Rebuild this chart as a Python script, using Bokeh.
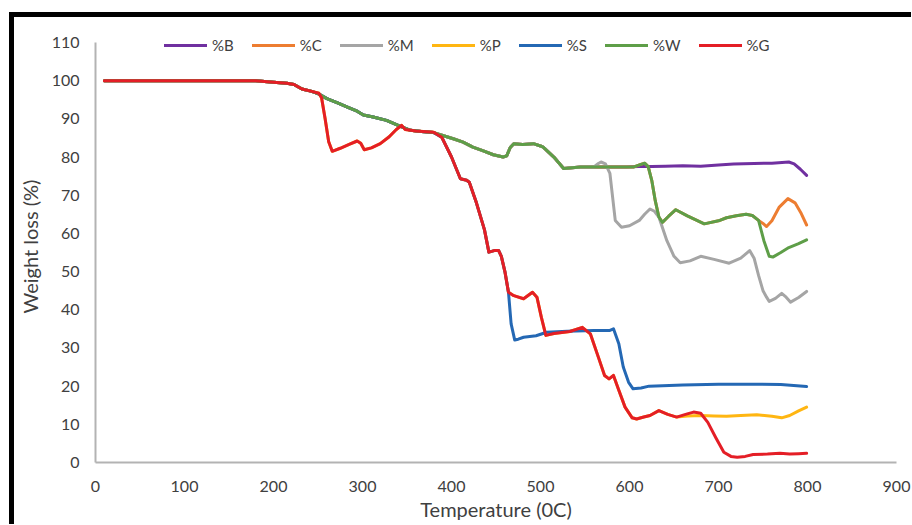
from bokeh.plotting import figure
from bokeh.models import FixedTicker, Legend, LegendItem, Spacer
from bokeh.layouts import column, row
from bokeh.embed import file_html
from bokeh.resources import INLINE

FONT = "Lato"

# ---------------- data ----------------
x_ticks = [0, 100, 200, 300, 400, 500, 600, 700, 800, 900]
y_ticks = [0, 10, 20, 30, 40, 50, 60, 70, 80, 90, 100, 110]

# common start (all series)
t_start = [10, 60, 120, 180, 200, 215, 223, 232, 243]
v_start = [100, 100, 100, 100, 99.6, 99.3, 99.0, 97.8, 97.2]

# upper path 250-380 (B, C, M, W, S)
t_upper = [252, 260, 272, 283, 294, 301, 312, 327, 344, 354, 366, 380]
v_upper = [96.4, 95.3, 94.2, 93.1, 92.0, 91.0, 90.5, 89.6, 87.9, 87.0, 86.7, 86.4]

# dip path 250-380 (G, P)
t_gdip = [251, 254, 258, 262, 266, 275, 285, 294, 298, 302, 310, 320, 330, 338, 344, 348, 360, 380]
v_gdip = [96.7, 95.5, 90.0, 84.0, 81.5, 82.3, 83.3, 84.2, 83.6, 81.9, 82.4, 83.5, 85.3, 87.2, 88.3, 87.2, 86.8, 86.5]

# middle part 390-560 (B, C, M, W)
t_mid = [392, 402, 413, 424, 435, 447, 458, 462, 466, 470, 480, 492, 500, 503, 515, 526, 545, 560]
v_mid = [85.5, 84.8, 83.9, 82.6, 81.7, 80.6, 80.0, 80.3, 82.5, 83.5, 83.3, 83.5, 82.9, 82.6, 80.0, 77.0, 77.4, 77.4]

# steep descent 389-464 (S, P, G)
t_desc = [389, 400, 410, 417, 420, 428, 437, 442, 448, 453, 456, 460, 464]
v_desc = [85.2, 80.0, 74.3, 73.9, 73.4, 68.0, 61.0, 55.1, 55.5, 55.5, 54.0, 50.0, 44.6]

# %W (and %C until 745)
t_w = [575, 597, 605, 612, 617, 621, 625, 629, 633, 637, 644, 652, 665, 684, 700, 709, 720, 731, 738, 745]
v_w = [77.4, 77.4, 77.4, 78.0, 78.4, 77.5, 73.9, 68.5, 64.3, 62.9, 64.5, 66.2, 64.6, 62.5, 63.3, 64.1, 64.6, 65.0, 64.7, 63.4]
t_w_end = [751, 757, 761, 770, 779, 790, 799]
v_w_end = [58.1, 54.0, 53.8, 55.0, 56.3, 57.3, 58.3]

# %C end
t_c_end = [750, 754, 760, 768, 778, 786, 793, 799]
v_c_end = [62.6, 61.8, 63.3, 66.8, 69.1, 68.0, 65.2, 62.2]

# %B end
t_b = [575, 597, 610, 625, 640, 660, 680, 700, 717, 740, 760, 779, 785, 792, 799]
v_b = [77.4, 77.4, 77.5, 77.5, 77.6, 77.7, 77.6, 77.9, 78.2, 78.3, 78.4, 78.7, 78.2, 76.8, 75.2]

# %M end
t_m = [565, 568, 573, 578, 584, 591, 600, 611, 617, 623, 628, 633, 642, 650, 657, 668, 680, 695,
       712, 725, 735, 740, 745, 750, 754, 757, 764, 771, 776, 781, 790, 799]
v_m = [78.3, 78.7, 78.2, 75.7, 63.4, 61.6, 62.0, 63.4, 65.0, 66.4, 65.8, 64.3, 58.1, 54.0, 52.3, 52.8, 54.0, 53.2,
       52.2, 53.5, 55.5, 53.5, 49.0, 45.0, 43.3, 42.2, 43.0, 44.3, 43.3, 42.0, 43.2, 44.8]

# %S end
t_s = [467, 471, 475, 481, 495, 507, 530, 560, 578, 582, 588, 593, 599, 604, 613, 622, 660, 700, 740, 770, 799]
v_s = [36.3, 32.1, 32.3, 32.8, 33.2, 34.1, 34.4, 34.6, 34.6, 35.0, 31.1, 25.0, 21.0, 19.3, 19.5, 20.0, 20.3, 20.5, 20.5, 20.4, 19.9]

# %G / %P shared part 470-653
t_g = [470, 481, 491, 496, 501, 506, 515, 533, 547, 556, 565, 572, 577, 582, 588, 595, 603, 608, 616, 623, 633, 643, 653]
v_g = [43.7, 42.9, 44.6, 43.3, 38.0, 33.3, 33.8, 34.3, 35.4, 33.7, 27.6, 22.8, 21.9, 22.8, 18.9, 14.5, 11.7, 11.4, 11.9, 12.3, 13.6, 12.6, 11.9]

# %G end
t_g_end = [663, 672, 680, 688, 697, 706, 714, 721, 730, 739, 755, 769, 780, 790, 799]
v_g_end = [12.6, 13.2, 12.9, 10.5, 6.5, 2.7, 1.6, 1.4, 1.6, 2.1, 2.2, 2.4, 2.2, 2.3, 2.4]

# %P end
t_p_end = [665, 680, 695, 709, 725, 743, 760, 771, 780, 790, 799]
v_p_end = [12.2, 12.3, 12.2, 12.1, 12.3, 12.5, 12.1, 11.7, 12.3, 13.5, 14.5]

names = ["%B", "%C", "%M", "%P", "%S", "%W", "%G"]
colors = ["#7030A0", "#ED7D31", "#A5A5A5", "#FFB612", "#2468B4", "#5E9E48", "#E41E26"]

B_t = t_start + t_upper + t_mid + t_b
B_v = v_start + v_upper + v_mid + v_b
C_t = t_start + t_upper + t_mid + t_w + t_c_end
C_v = v_start + v_upper + v_mid + v_w + v_c_end
M_t = t_start + t_upper + t_mid + t_m
M_v = v_start + v_upper + v_mid + v_m
P_t = t_start + t_gdip + t_desc + t_g + t_p_end
P_v = v_start + v_gdip + v_desc + v_g + v_p_end
S_t = t_start + t_upper + t_desc + t_s
S_v = v_start + v_upper + v_desc + v_s
W_t = t_start + t_upper + t_mid + t_w + t_w_end
W_v = v_start + v_upper + v_mid + v_w + v_w_end
G_t = t_start + t_gdip + t_desc + t_g + t_g_end
G_v = v_start + v_gdip + v_desc + v_g + v_g_end

series_t = [B_t, C_t, M_t, P_t, S_t, W_t, G_t]
series_v = [B_v, C_v, M_v, P_v, S_v, W_v, G_v]

# ---------------- figure ----------------
p = figure(width=897, height=507, x_range=(0, 900), y_range=(0, 113.14),
           output_backend="svg", toolbar_location=None,
           min_border_left=81, min_border_right=15, min_border_top=13, min_border_bottom=62)
p.xgrid.visible = False
p.ygrid.visible = False
p.outline_line_color = None
p.background_fill_color = "white"
p.border_fill_color = "white"

for ax in (p.xaxis[0], p.yaxis[0]):
    ax.axis_line_color = "#B3B3B3"
    ax.axis_line_width = 2
    ax.major_tick_line_color = None
    ax.minor_tick_line_color = None
    ax.major_label_text_font = FONT
    ax.major_label_text_font_size = "16px"
    ax.major_label_text_color = "#404040"
    ax.axis_label_text_font = FONT
    ax.axis_label_text_font_size = "20px"
    ax.axis_label_text_font_style = "normal"
    ax.axis_label_text_color = "#404040"

p.xaxis.ticker = FixedTicker(ticks=x_ticks)
p.yaxis.ticker = FixedTicker(ticks=y_ticks)
p.yaxis.bounds = (0, 110)
p.xaxis.major_label_standoff = 12
p.yaxis.major_label_standoff = 10
p.xaxis.axis_label = "Temperature (0C)"
p.yaxis.axis_label = "Weight loss (%)"
p.xaxis.axis_label_standoff = 2
p.yaxis.axis_label_standoff = 7

items = []
for name, tt, vv, col in zip(names, series_t, series_v, colors):
    r = p.line(tt, vv, line_color=col, line_width=3, line_join="round", line_cap="round")
    items.append(LegendItem(label=name, renderers=[r]))

legend = Legend(items=items, orientation="horizontal", location=(69, 408),
                border_line_color=None, background_fill_alpha=0,
                padding=0, margin=0, spacing=18, glyph_width=43, glyph_height=16,
                label_standoff=5, label_text_font=FONT, label_text_font_size="15px",
                label_text_color="#404040")
p.add_layout(legend)

# black frame lines (left and top) of the surrounding chart area
top_gap = Spacer(width=10, height=12, margin=0)
left_gap = Spacer(width=9, height=512, margin=0)
left_bar = Spacer(width=5, height=512, margin=0, styles={"background-color": "#000000"})
top_bar = Spacer(width=897, height=5, margin=0, styles={"background-color": "#000000"})

layout = column(top_gap, row(left_gap, left_bar, column(top_bar, p, spacing=0), spacing=0), spacing=0)

open("out.html", "w").write(file_html(layout, INLINE))
